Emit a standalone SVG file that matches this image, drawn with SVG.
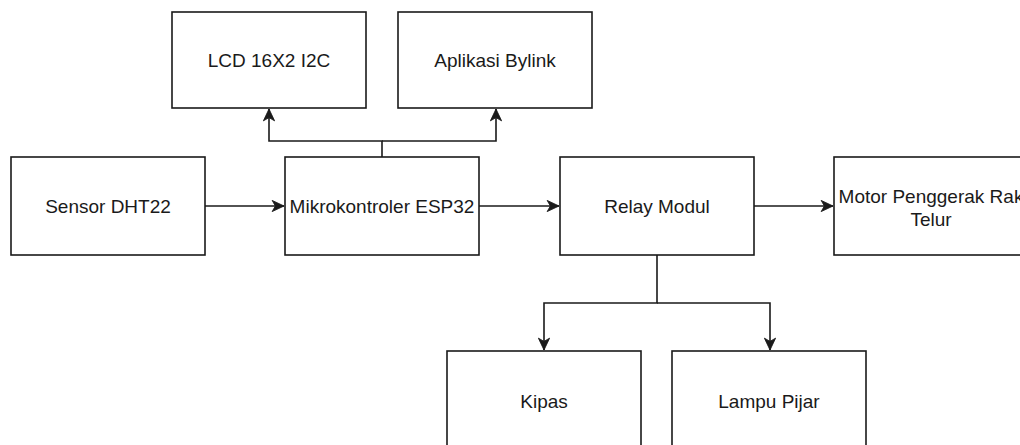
<svg xmlns="http://www.w3.org/2000/svg" width="1020" height="445" viewBox="0 0 1020 445">
  <style>
    .box { fill: #ffffff; stroke: #1a1a1a; stroke-width: 1.6; }
    .lbl { font-family: "Liberation Sans", Arial, sans-serif; font-size: 19px; fill: #1a1a1a; text-anchor: middle; }
    .edge { fill: none; stroke: #1a1a1a; stroke-width: 1.6; }
  </style>
  <defs>
    <marker id="arr" markerUnits="userSpaceOnUse" markerWidth="14" markerHeight="14" viewBox="-12 -6 13 12" refX="0" refY="0" orient="auto">
      <path d="M0,0 L-11,-5.2 L-8,0 L-11,5.2 Z" fill="#1a1a1a" stroke="#1a1a1a" stroke-width="0.8" stroke-linejoin="miter"/>
    </marker>
  </defs>
  <rect width="1020" height="445" fill="#ffffff"/>

  <g id="connectors">
    <path class="edge" d="M205,206 L284,206" marker-end="url(#arr)"/>
    <path class="edge" d="M479,206 L559,206" marker-end="url(#arr)"/>
    <path class="edge" d="M754,206 L833,206" marker-end="url(#arr)"/>
    <path class="edge" d="M382,157 L382,141 L269,141 L269,109" marker-end="url(#arr)"/>
    <path class="edge" d="M382,141 L496,141 L496,109" marker-end="url(#arr)"/>
    <path class="edge" d="M657,255 L657,303 L544,303 L544,350" marker-end="url(#arr)"/>
    <path class="edge" d="M657,303 L770,303 L770,350" marker-end="url(#arr)"/>
  </g>

  <g id="lcd">
    <rect class="box" x="172" y="12" width="194" height="96"/>
    <text class="lbl" x="269" y="66.8">LCD 16X2 I2C</text>
  </g>
  <g id="aplikasi">
    <rect class="box" x="398" y="12" width="194" height="96"/>
    <text class="lbl" x="495" y="66.8">Aplikasi Bylink</text>
  </g>
  <g id="sensor">
    <rect class="box" x="11" y="157" width="194" height="98"/>
    <text class="lbl" x="108" y="212.8">Sensor DHT22</text>
  </g>
  <g id="mikrokontroler">
    <rect class="box" x="285" y="157" width="194" height="98"/>
    <text class="lbl" x="382" y="212.8">Mikrokontroler ESP32</text>
  </g>
  <g id="relay">
    <rect class="box" x="560" y="157" width="194" height="98"/>
    <text class="lbl" x="657" y="212.8">Relay Modul</text>
  </g>
  <g id="motor">
    <rect class="box" x="834" y="157" width="194" height="98"/>
    <text class="lbl" x="931" y="203">Motor Penggerak Rak</text>
    <text class="lbl" x="931" y="225.8">Telur</text>
  </g>
  <g id="kipas">
    <rect class="box" x="447" y="351" width="194" height="98"/>
    <text class="lbl" x="544" y="407.5">Kipas</text>
  </g>
  <g id="lampu">
    <rect class="box" x="672" y="351" width="194" height="98"/>
    <text class="lbl" x="769" y="407.5">Lampu Pijar</text>
  </g>
</svg>
